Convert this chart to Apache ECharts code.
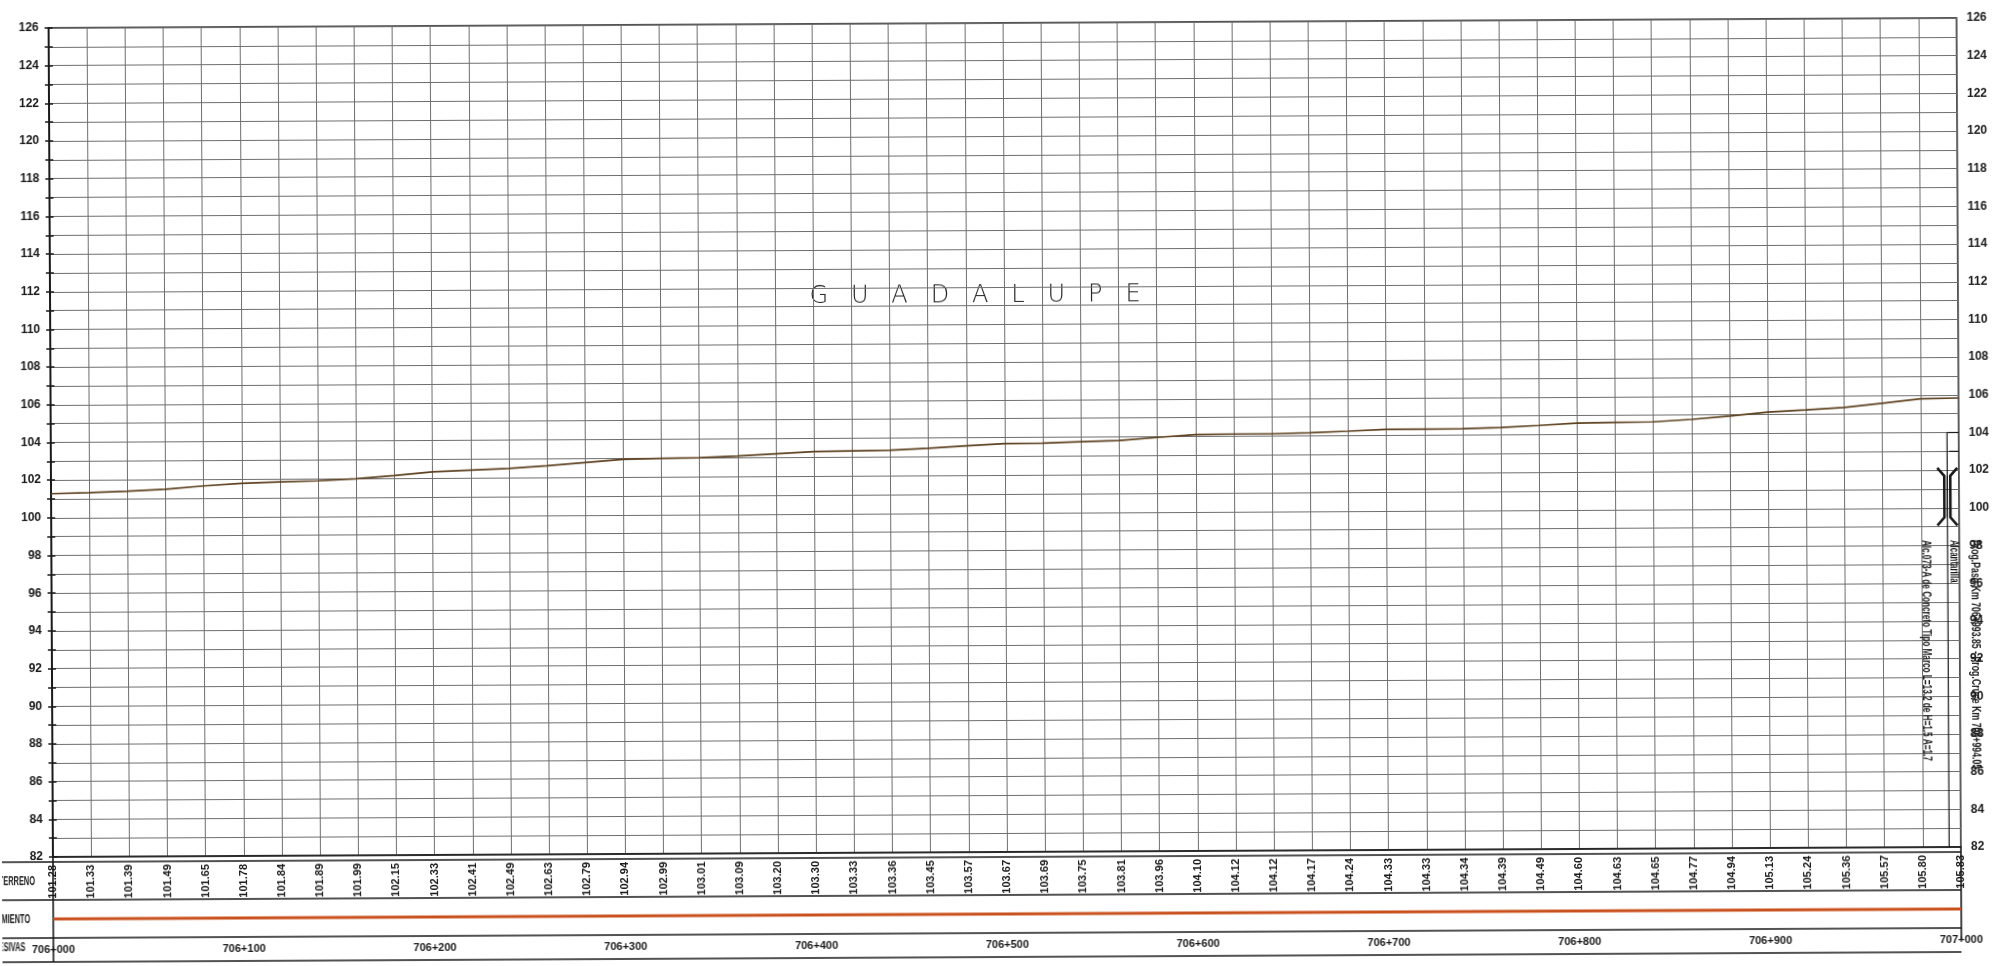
<!DOCTYPE html>
<html>
<head>
<meta charset="utf-8">
<title>Perfil longitudinal - Guadalupe</title>
<script src="https://cdn.jsdelivr.net/npm/echarts@6/dist/echarts.min.js"></script>
<style>
  html, body { margin: 0; padding: 0; background: #fff; overflow: hidden; }
  /* el plano escaneado esta un poco girado */
  #perfil { width: 2002px; height: 966px; transform: rotate(-0.3deg); transform-origin: 50% 50%; }
</style>
</head>
<body>
<div id="perfil"></div>
<script>
// ------------------------------  datos ---------------------------
// estaciones (m desde 706+000)
const estaciones = [0, 20, 40, 60, 80, 100, 120, 140, 160, 180, 200, 220, 240, 260, 280, 300, 320, 340, 360, 380,
  400, 420, 440, 460, 480, 500, 520, 540, 560, 580, 600, 620, 640, 660, 680, 700, 720, 740, 760, 780,
  800, 820, 840, 860, 880, 900, 920, 940, 960, 980, 1000];
// cotas del terreno
const terreno = [101.28, 101.33, 101.39, 101.49, 101.65, 101.78, 101.84, 101.89, 101.99, 102.15,
  102.33, 102.41, 102.49, 102.63, 102.79, 102.94, 102.99, 103.01, 103.09, 103.20,
  103.30, 103.33, 103.36, 103.45, 103.57, 103.67, 103.69, 103.75, 103.81, 103.96,
  104.10, 104.12, 104.12, 104.17, 104.24, 104.33, 104.33, 104.34, 104.39, 104.49,
  104.60, 104.63, 104.65, 104.77, 104.94, 105.13, 105.24, 105.36, 105.57, 105.80, 105.83];
// etiquetas de progresivas (cada 100 m)
const progresivas = ['706+000', '706+100', '706+200', '706+300', '706+400', '706+500',
  '706+600', '706+700', '706+800', '706+900', '707+000'];
// linea de alineamiento dentro de su franja (posicion relativa 0..1)
const alineamientoX = [0, 1000];
const alineamientoY = [0.5, 0.5];
// alcantarilla
const alcEstacion = [993.85];
const alcCotas = [99.5, 101.7];   // inferior, superior del simbolo
const alcCaja = [103, 104];
const alcTextos = [
  'Alc.073-A de Concreto Tipo Marco L=13.2 de H=1.5 A=1.7',
  'Alcantarilla',
  'Prog.Paso Km 706+993.85 - Prog.Cruce Km 706+994.05'
];

(function () {
  const FONT = '"Liberation Sans", Arial, sans-serif';
  const GRIS = '#6e6e6e';
  const NEGRO = '#1a1a1a';

  const chart = echarts.init(document.getElementById('perfil'));

  // tabla inferior (lineas y rotulos de fila)
  const tabla = [];
  [857, 895, 933, 957].forEach(function (y) {
    tabla.push({ type: 'line', shape: { x1: 0, y1: y, x2: 1959, y2: y }, style: { stroke: NEGRO, lineWidth: 1.5 } });
  });
  tabla.push({ type: 'line', shape: { x1: 51, y1: 851, x2: 51, y2: 957 }, style: { stroke: NEGRO, lineWidth: 1.6 } });
  tabla.push({ type: 'line', shape: { x1: 1959, y1: 851, x2: 1959, y2: 945 }, style: { stroke: NEGRO, lineWidth: 1.6 } });
  [['TERRENO', 33, 877], ['ALINEAMIENTO', 28, 915], ['PROGRESIVAS', 23, 943]].forEach(function (r) {
    tabla.push({
      type: 'text', x: r[1], y: r[2], scaleX: 0.62,
      style: { text: r[0], font: 'bold 12px ' + FONT, fill: NEGRO, align: 'right', textAlign: 'right', verticalAlign: 'middle', textVerticalAlign: 'middle' }
    });
  });
  tabla.push({
    type: 'text', x: 976, y: 296,
    style: {
      text: 'G   U   A   D   A   L   U   P   E', font: '200 24px "DejaVu Sans", sans-serif', fill: '#222',
      align: 'center', textAlign: 'center', verticalAlign: 'middle', textVerticalAlign: 'middle'
    }
  });

  const ejeY = {
    type: 'value', min: 82, max: 126, interval: 1,
    axisLine: { show: true, lineStyle: { color: NEGRO, width: 2 } },
    axisTick: { show: true, length: 4, lineStyle: { color: NEGRO, width: 1.5 } },
    axisLabel: {
      margin: 10, color: NEGRO, fontSize: 12, fontWeight: 'bold', fontFamily: FONT,
      formatter: function (v) { return v % 2 === 0 ? String(v) : ''; }
    }
  };

  const option = {
    animation: false,
    backgroundColor: '#fff',
    graphic: { elements: tabla },
    grid: [
      { left: 51, right: 43, top: 23, bottom: 114, show: true, borderColor: NEGRO, borderWidth: 1.5 },
      { left: 51, right: 43, top: 895, bottom: 33 }
    ],
    xAxis: [
      {
        gridIndex: 0, type: 'value', min: 0, max: 1000, interval: 20,
        axisLine: { show: true, lineStyle: { color: NEGRO, width: 1.5 } },
        axisTick: { show: false },
        splitLine: { show: true, lineStyle: { color: GRIS, width: 1 } },
        axisLabel: {
          rotate: 90, margin: 8, color: NEGRO, fontSize: 11, fontWeight: 'bold', fontFamily: FONT,
          formatter: function (v) { return terreno[estaciones.indexOf(v)].toFixed(2); }
        }
      },
      {
        gridIndex: 0, type: 'value', min: 0, max: 1000, interval: 100, position: 'bottom', offset: 82,
        axisLine: { show: false }, axisTick: { show: false }, splitLine: { show: false },
        axisLabel: {
          margin: 5, color: NEGRO, fontSize: 11, fontWeight: 'bold', fontFamily: FONT,
          formatter: function (v) { return progresivas[Math.round(v / 100)]; }
        }
      },
      { gridIndex: 1, type: 'value', min: 0, max: 1000, show: false }
    ],
    yAxis: [
      Object.assign({}, ejeY, { gridIndex: 0, position: 'left', splitLine: { show: true, lineStyle: { color: GRIS, width: 1 } } }),
      Object.assign({}, ejeY, { gridIndex: 0, position: 'right', splitLine: { show: false } }),
      { gridIndex: 1, type: 'value', min: 0, max: 1, show: false }
    ],
    series: [
      {
        name: 'Terreno', type: 'line', xAxisIndex: 0, yAxisIndex: 0,
        data: estaciones.map(function (e, i) { return [e, terreno[i]]; }),
        symbol: 'none', lineStyle: { color: '#5e4220', width: 1.7 }, z: 5
      },
      {
        name: 'Alineamiento', type: 'line', xAxisIndex: 2, yAxisIndex: 2,
        data: alineamientoX.map(function (e, i) { return [e, alineamientoY[i]]; }),
        symbol: 'none', lineStyle: { color: '#c9501c', width: 3 }
      },
      {
        name: 'Alcantarilla', type: 'custom', xAxisIndex: 0, yAxisIndex: 0, clip: false, z: 6,
        data: alcEstacion.map(function (e) { return [e, alcCotas[0]]; }),
        renderItem: function (params, api) {
          const x = api.coord([api.value(0), 82])[0];
          const yBase = api.coord([0, 82])[1];
          const yTop = api.coord([0, alcCaja[1]])[1];
          const yMid = api.coord([0, alcCaja[0]])[1];
          const xEnd = api.coord([1000, 82])[0];
          const ySup = api.coord([0, alcCotas[1]])[1];
          const yInf = api.coord([0, alcCotas[0]])[1];
          const yTxt = api.coord([0, 98.3])[1];
          const fino = { stroke: NEGRO, lineWidth: 1.2, fill: null };
          const grueso = { stroke: NEGRO, lineWidth: 2.6, fill: null };
          function txt(s, dx, sx) {
            return {
              type: 'text', x: x + dx, y: yTxt, rotation: -Math.PI / 2, scaleX: sx,
              style: { text: s, font: 'bold 12px ' + FONT, fill: NEGRO, align: 'left', textAlign: 'left', verticalAlign: 'middle', textVerticalAlign: 'middle' }
            };
          }
          return {
            type: 'group',
            children: [
              { type: 'line', shape: { x1: x, y1: yBase, x2: x, y2: yTop }, style: fino },
              { type: 'line', shape: { x1: x, y1: yTop, x2: xEnd, y2: yTop }, style: fino },
              { type: 'line', shape: { x1: x + 2, y1: yMid, x2: xEnd, y2: yMid }, style: fino },
              { type: 'polyline', shape: { points: [[x - 10, ySup - 8], [x - 3, ySup], [x - 3, yInf], [x - 10, yInf + 8]] }, style: grueso },
              { type: 'polyline', shape: { points: [[x + 10, ySup - 8], [x + 3, ySup], [x + 3, yInf], [x + 10, yInf + 8]] }, style: grueso },
              { type: 'line', shape: { x1: x, y1: ySup, x2: x, y2: yInf }, style: { stroke: NEGRO, lineWidth: 1 } },
              txt(alcTextos[0], -22, 0.68),
              txt(alcTextos[1], 6, 0.66),
              txt(alcTextos[2], 27, 0.73)
            ]
          };
        }
      }
    ]
  };

  chart.setOption(option);
})();
</script>
</body>
</html>
